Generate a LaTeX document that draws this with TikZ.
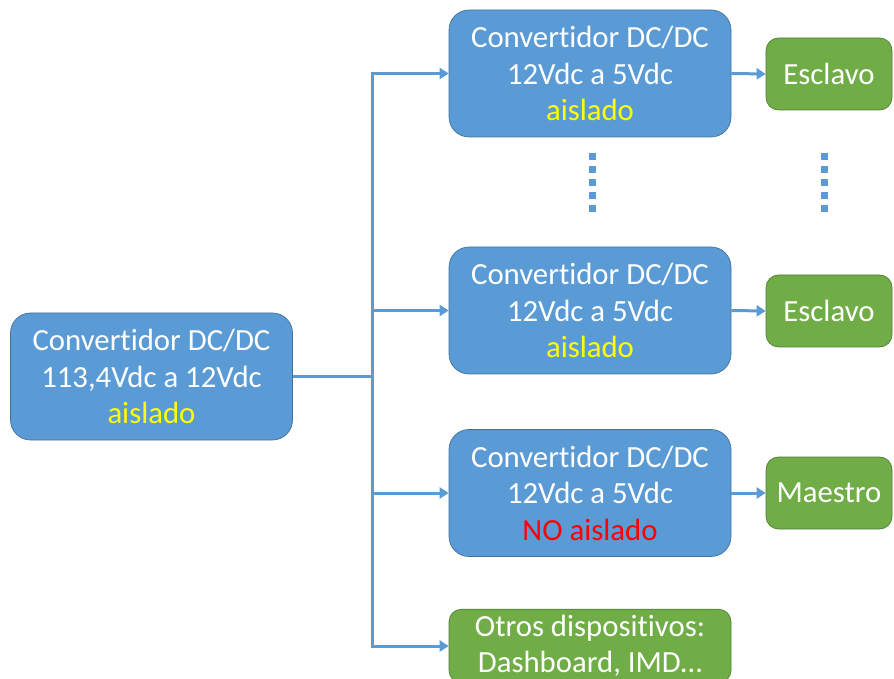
\documentclass[tikz,border=0pt]{standalone}
\usepackage{fontspec}
\setmainfont{Carlito}[Ligatures=NoCommon]
\usetikzlibrary{arrows.meta}
\definecolor{conv}{HTML}{5B9BD5}
\definecolor{convline}{HTML}{41719C}
\definecolor{carga}{HTML}{70AD47}
\definecolor{cargaline}{HTML}{507E32}
\definecolor{iso}{HTML}{FFFF00}
\definecolor{noiso}{HTML}{FF0000}
\tikzset{
  conv/.style={rectangle,rounded corners=0.4cm,fill=conv,draw=convline,thin,
    minimum width=5.64cm,minimum height=2.54cm,align=center,text=white,
    font=\fontsize{17.5}{20.8}\selectfont},
  carga/.style={rectangle,rounded corners=0.25cm,fill=carga,draw=cargaline,thin,
    minimum width=2.52cm,minimum height=1.44cm,align=center,text=white,
    font=\fontsize{17.5}{20.8}\selectfont},
  wire/.style={draw=conv,line width=0.06cm},
  feed/.style={wire,-{Triangle[length=0.18cm,width=0.22cm]}},
  dots/.style={draw=conv,line width=0.14cm,dash pattern=on 0.14cm off 0.12cm},
}

\begin{document}
\begin{tikzpicture}
  \useasboundingbox (0,0) rectangle (17.88,-13.58);

  % convertidores
  \node [conv] at (3.03,-7.53) (conv0) {Convertidor DC/DC\\113,4Vdc a 12Vdc\\\textcolor{iso}{aislado}};
  \node [conv] at (11.8,-1.47) (conv1) {Convertidor DC/DC\\12Vdc a 5Vdc\\\textcolor{iso}{aislado}};
  \node [conv] at (11.8,-6.21) (conv2) {Convertidor DC/DC\\12Vdc a 5Vdc\\\textcolor{iso}{aislado}};
  \node [conv] at (11.8,-9.86) (conv3) {Convertidor DC/DC\\12Vdc a 5Vdc\\\textcolor{noiso}{NO aislado}};

  % cargas
  \node [carga] at (16.58,-1.48) (esc1) {Esclavo};
  \node [carga] at (16.58,-6.22) (esc2) {Esclavo};
  \node [carga] at (16.58,-9.86) (maestro) {Maestro};
  \node [carga,minimum width=5.64cm] at (11.8,-12.92) (otros) {Otros dispositivos:\\Dashboard, IMD\dots};

  \coordinate (split) at (7.44,-7.53);
  \draw [wire] (conv0.east) -- (split);
  \foreach \n in {conv1,conv2,conv3,otros}
  {
    \draw [feed] (split) |- (\n.west);
  }
  \draw [feed] (conv1.east) -- (esc1.west);
  \draw [feed] (conv2.east) -- (esc2.west);
  \draw [feed] (conv3.east) -- (maestro.west);

  \draw [dots] (11.84,-3.06) -- (11.84,-4.26);
  \draw [dots] (16.48,-3.06) -- (16.48,-4.26);
\end{tikzpicture}
\end{document}
